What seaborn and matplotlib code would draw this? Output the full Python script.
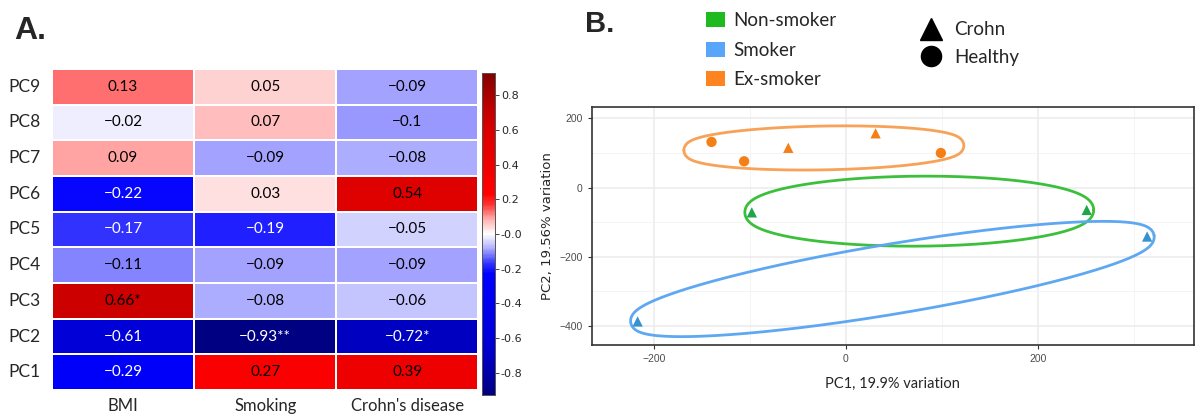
import numpy as np
import pandas as pd
import matplotlib
matplotlib.use("Agg")
import matplotlib.pyplot as plt
import seaborn as sns
from matplotlib import font_manager
from matplotlib.colors import LinearSegmentedColormap
from matplotlib.patches import Patch
from matplotlib.lines import Line2D

# --- panel A data: correlation of PCs with traits
pcs = ["PC9", "PC8", "PC7", "PC6", "PC5", "PC4", "PC3", "PC2", "PC1"]
traits = ["BMI", "Smoking", "Crohn's disease"]
bmi = [0.13, -0.02, 0.09, -0.22, -0.17, -0.11, 0.66, -0.61, -0.29]
smoking = [0.05, 0.07, -0.09, 0.03, -0.19, -0.09, -0.08, -0.93, 0.27]
crohn = [-0.09, -0.1, -0.08, 0.54, -0.05, -0.09, -0.06, -0.72, 0.39]
bmi_sig = ["", "", "", "", "", "", "*", "", ""]
smoking_sig = ["", "", "", "", "", "", "", "**", ""]
crohn_sig = ["", "", "", "", "", "", "", "*", ""]

# --- panel B data: PCA scores
pc1 = [-140, -106, -60, 31, 99, -98, 251, -217, 314]
pc2 = [132, 76, 115, 157, 100, -72, -65, -388, -142]
status = ["Ex-smoker"] * 5 + ["Non-smoker"] * 2 + ["Smoker"] * 2
condition = ["Healthy", "Healthy", "Crohn", "Crohn", "Healthy",
             "Crohn", "Crohn", "Crohn", "Crohn"]

groups = ["Non-smoker", "Smoker", "Ex-smoker"]
legend_colors = {"Non-smoker": "#1fba1f", "Smoker": "#57a6fb", "Ex-smoker": "#fd8420"}
point_colors = {"Non-smoker": "#1fa64a", "Smoker": "#3692cf", "Ex-smoker": "#f57f17"}
ring_colors = {"Non-smoker": "#3cc03c", "Smoker": "#5ea8f2", "Ex-smoker": "#f7a257"}

names = {f.name for f in font_manager.fontManager.ttflist}
narrow = "Liberation Sans Narrow" if "Liberation Sans Narrow" in names else "DejaVu Sans"

sns.set_style("white")
plt.rcParams["font.family"] = ["Lato", "DejaVu Sans"]

fig = plt.figure(figsize=(11.98, 4.15), dpi=100)

# ---------------- panel A
corr = pd.DataFrame({"BMI": bmi, "Smoking": smoking, "Crohn's disease": crohn}, index=pcs)
sig = pd.DataFrame({"BMI": bmi_sig, "Smoking": smoking_sig, "Crohn's disease": crohn_sig}, index=pcs)
labels = corr.apply(lambda col: [f"{v:g}".replace("-", "\u2212") for v in col])
labels = labels + sig

# blue-white-red map, saturated early and darkening towards the ends
vmax = 0.93
ramp = [(0.0, 1.0, 1.0), (0.08, 0.70, 1.0), (0.17, 0.2, 1.0), (0.23, 0.0, 1.0),
        (0.29, 0.0, 0.98), (0.6, 0.0, 0.85), (0.72, 0.0, 0.76), (0.93, 0.0, 0.51)]
stops = []
for m, w, s in ramp[::-1]:
    stops.append((0.5 - m / (2 * vmax), (w, w, s)))
for m, w, s in ramp[1:]:
    stops.append((0.5 + m / (2 * vmax), (s, w, w)))
cmap = LinearSegmentedColormap.from_list("pcmap", stops)

ax_h = fig.add_axes([0.0434, 0.060, 0.356, 0.774])
ax_cb = fig.add_axes([0.4027, 0.048, 0.0108, 0.777])
sns.heatmap(corr, ax=ax_h, cbar_ax=ax_cb, cmap=cmap, vmin=-vmax, vmax=vmax,
            annot=labels.values, fmt="", linewidths=1.2, linecolor="white",
            annot_kws={"fontsize": 11})
for txt, v in zip(ax_h.texts, corr.values.ravel()):
    txt.set_color("white" if v < -0.15 else "black")
ax_h.tick_params(axis="y", length=3, color="#999999", labelsize=12.5, rotation=0, pad=5)
ax_h.tick_params(axis="x", length=0, labelsize=12, pad=6)
ax_cb.set_yticks(np.arange(-0.8, 0.81, 0.2))
ax_cb.set_yticklabels([f"{t:.1f}" for t in np.arange(-0.8, 0.81, 0.2)],
                      fontsize=8, family=narrow)
ax_cb.tick_params(length=3, width=0.6, pad=1)
for s in ax_cb.spines.values():
    s.set_visible(True)
    s.set_color("#555555")
    s.set_linewidth(0.6)
fig.text(0.012, 0.906, "A.", fontsize=23, fontweight="bold", family=["Liberation Sans", "DejaVu Sans"])

# ---------------- panel B
ax_s = fig.add_axes([0.4938, 0.168, 0.503, 0.574])
pca = pd.DataFrame({"PC1": pc1, "PC2": pc2, "Status": status, "Condition": condition})
ax_s.set_xlim(-265, 363)
ax_s.set_ylim(-457, 233)
ax_s.set_xticks([-200, 0, 200])
ax_s.set_yticks([-400, -200, 0, 200])
ax_s.set_xticks([-100, 100, 300], minor=True)
ax_s.set_yticks([-300, -100, 100], minor=True)
ax_s.grid(which="major", color="#ebebeb", linewidth=1.1)
ax_s.grid(which="minor", color="#f2f2f2", linewidth=0.6)
ax_s.set_axisbelow(True)


def mvee(p, tol=1e-5):
    n, d = p.shape
    q = np.vstack([p.T, np.ones(n)])
    u = np.ones(n) / n
    err = 1.0
    while err > tol:
        x = q @ np.diag(u) @ q.T
        m = np.einsum("ij,ji->i", q.T @ np.linalg.inv(x), q)
        j = np.argmax(m)
        step = (m[j] - d - 1) / ((d + 1) * (m[j] - 1))
        nu = (1 - step) * u
        nu[j] += step
        err = np.linalg.norm(nu - u)
        u = nu
    c = u @ p
    a = np.linalg.inv(p.T @ np.diag(u) @ p - np.outer(c, c)) / d
    w, v = np.linalg.eigh(a)
    return c, 1 / np.sqrt(w), v


def ring(ax, x, y, min_minor=28, pad=7):
    # ellipse around the points, in screen pixels, then expanded
    p = ax.transData.transform(np.column_stack([x, y]))
    if len(p) > 2:
        c, axes_len, vec = mvee(p)
        order = np.argsort(axes_len)[::-1]
        a, b = axes_len[order]
        vec = vec[:, order]
    else:
        c = p.mean(axis=0)
        dv = p[1] - p[0]
        a = np.linalg.norm(dv) / 2
        u1 = dv / (2 * a)
        vec = np.column_stack([u1, [-u1[1], u1[0]]])
        b = min_minor
    t = np.linspace(0, 2 * np.pi, 400)
    pts = np.column_stack([a * np.cos(t), b * np.sin(t)])
    nrm = np.column_stack([b * np.cos(t), a * np.sin(t)])
    nrm /= np.linalg.norm(nrm, axis=1)[:, None]
    pts = pts + pad * nrm
    disp = pts @ vec.T + c
    return ax.transData.inverted().transform(disp)


for g in groups:
    sub = pca[pca.Status == g]
    curve = ring(ax_s, sub.PC1.values, sub.PC2.values)
    ax_s.plot(curve[:, 0], curve[:, 1], color=ring_colors[g], lw=2, zorder=2)

sns.scatterplot(data=pca, x="PC1", y="PC2", hue="Status", style="Condition",
                palette=point_colors, markers={"Crohn": "^", "Healthy": "o"},
                s=55, edgecolor="none", legend=False, ax=ax_s, zorder=3)

ax_s.set_xlabel("PC1, 19.9% variation", fontsize=10.5, labelpad=9)
ax_s.set_ylabel("PC2, 19.56% variation", fontsize=9.5, labelpad=4,
                family=["DejaVu Sans"])
ax_s.tick_params(which="major", length=3, width=0.8, color="#333333",
                 labelsize=7.5, labelcolor="#4d4d4d", bottom=True, left=True)
ax_s.tick_params(which="minor", length=0)
for lab in ax_s.get_xticklabels() + ax_s.get_yticklabels():
    lab.set_family(["Liberation Sans", "DejaVu Sans"])
for s in ax_s.spines.values():
    s.set_color("#333333")
    s.set_linewidth(1.2)

fig.text(0.488, 0.923, "B.", fontsize=21, fontweight="bold", family=["Liberation Sans", "DejaVu Sans"])

hue_handles = [Patch(facecolor=legend_colors[g], edgecolor="none", label=g) for g in groups]
fig.legend(handles=hue_handles, loc="upper left", bbox_to_anchor=(0.578, 1.003),
           frameon=False, fontsize=13.5, handlelength=1.05, handleheight=0.85,
           handletextpad=0.45, labelspacing=0.68, borderaxespad=0.3)
shape_handles = [Line2D([], [], marker="^", color="black", linestyle="none", markersize=16, label="Crohn"),
                 Line2D([], [], marker="o", color="black", linestyle="none", markersize=14.5, label="Healthy")]
fig.legend(handles=shape_handles, loc="upper left", bbox_to_anchor=(0.757, 0.98),
           frameon=False, fontsize=13.5, handlelength=1.2, handletextpad=0.6,
           labelspacing=0.55, borderaxespad=0.3)

fig.savefig("out.png", dpi=100)
